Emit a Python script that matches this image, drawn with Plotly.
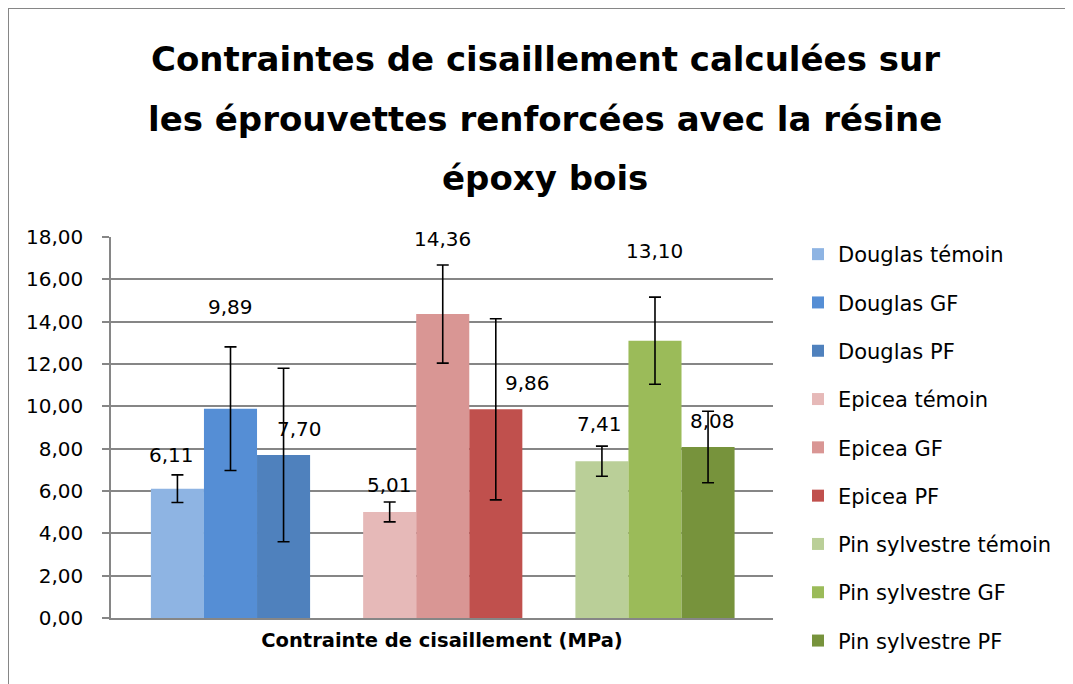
import plotly.graph_objects as go

# ---- data ----
groups = ["Douglas", "Epicea", "Pin sylvestre"]
types = ["témoin", "GF", "PF"]
series_names = [
    "Douglas témoin", "Douglas GF", "Douglas PF",
    "Epicea témoin", "Epicea GF", "Epicea PF",
    "Pin sylvestre témoin", "Pin sylvestre GF", "Pin sylvestre PF",
]
values = [6.11, 9.89, 7.70, 5.01, 14.36, 9.86, 7.41, 13.10, 8.08]
errors = [0.65, 2.92, 4.10, 0.47, 2.32, 4.28, 0.71, 2.06, 1.69]
colors = [
    "#8EB4E3", "#558ED5", "#4F81BD",
    "#E6B9B8", "#D99694", "#C0504D",
    "#BACF98", "#9BBB59", "#77933C",
]
# label placement (as moved by hand in the original chart)
label_y = [7.70, 14.71, 8.93, 6.28, 17.92, 11.09, 9.15, 17.35, 9.32]
label_dx = [-6, 0, 16, 0, 0, 32, -2, 0, 4]
y_ticks = [0, 2, 4, 6, 8, 10, 12, 14, 16, 18]

title_lines = [
    "Contraintes de cisaillement calculées sur",
    "les éprouvettes renforcées avec la résine",
    "époxy bois",
]
x_title = "Contrainte de cisaillement (MPa)"

# ---- layout geometry (screen pixels; the page body adds an 8px offset) ----
OFF = 8
SW, SH = 1073, 684
W, H = SW - OFF, SH - OFF
L, R, T, B = 111, 773, 237, 618
FONT = "DejaVu Sans"
GRID = "#868686"


def px_x(p):
    return (p - L) / (R - L)


def px_y(p):
    return (B - p) / (B - T)


fig = go.Figure()
for i, name in enumerate(series_names):
    g = i // 3
    t = i % 3
    fig.add_trace(go.Bar(
        x=[g], y=[values[i]], name=name,
        offsetgroup=types[t], legendgroup=name,
        marker=dict(color=colors[i], line=dict(width=0)),
        error_y=dict(type="data", array=[errors[i]], color="black",
                     thickness=1.6, width=6),
        hoverinfo="name+y",
    ))

bargap = 0.25
bar_w = (1 - bargap) / 3
annotations = []
for i, v in enumerate(values):
    g = i // 3
    t = i % 3
    annotations.append(dict(
        x=g + (t - 1) * bar_w, y=label_y[i], xref="x", yref="y",
        text=f"{v:.2f}".replace(".", ","), showarrow=False,
        xshift=label_dx[i], font=dict(family=FONT, size=20, color="black"),
        xanchor="center", yanchor="middle",
    ))

title_centers = [59, 119, 178]
for line, cy in zip(title_lines, title_centers):
    annotations.append(dict(
        x=px_x(545), y=px_y(cy), xref="paper", yref="paper",
        text=f"<b>{line}</b>", showarrow=False,
        font=dict(family=FONT, size=34, color="black"),
        xanchor="center", yanchor="middle",
    ))

shapes = [
    dict(type="line", xref="paper", yref="paper",
         x0=px_x(8), y0=px_y(8), x1=px_x(SW + 20), y1=px_y(8),
         line=dict(color=GRID, width=2)),
    dict(type="line", xref="paper", yref="paper",
         x0=px_x(8), y0=px_y(8), x1=px_x(8), y1=px_y(SH + 20),
         line=dict(color=GRID, width=2)),
]

fig.update_layout(
    width=W, height=H,
    margin=dict(l=L - OFF, r=SW - R, t=T - OFF, b=SH - B, pad=0),
    paper_bgcolor="white", plot_bgcolor="white",
    barmode="group", bargap=bargap, bargroupgap=0,
    separators=", ",
    font=dict(family=FONT, color="black"),
    showlegend=True,
    legend=dict(
        x=px_x(798), y=px_y(234), xanchor="left", yanchor="top",
        font=dict(family=FONT, size=21, color="black"),
        tracegroupgap=18, bgcolor="rgba(0,0,0,0)", maxheight=1,
    ),
    annotations=annotations,
    shapes=shapes,
    xaxis=dict(
        range=[-0.563, 2.556], showticklabels=False, ticks="",
        showgrid=False, zeroline=False,
        showline=True, linecolor=GRID, linewidth=1.5,
        title=dict(text=f"<b>{x_title}</b>", font=dict(family=FONT, size=19.5),
                   standoff=15),
        fixedrange=True,
    ),
    yaxis=dict(
        range=[0, 18], tickvals=y_ticks, tickformat=".2f",
        ticks="outside", ticklen=7, tickcolor=GRID, tickwidth=1.5,
        showgrid=True, gridcolor=GRID, gridwidth=1.5,
        showline=True, linecolor=GRID, linewidth=1.5, zeroline=False,
        tickfont=dict(family=FONT, size=20, color="black"),
        ticklabelstandoff=15,
        fixedrange=True,
    ),
)

fig.write_html(
    "out.html",
    config={"displayModeBar": False},
    post_script="document.documentElement.style.overflow='hidden';"
                "document.body.style.overflow='hidden';",
)
